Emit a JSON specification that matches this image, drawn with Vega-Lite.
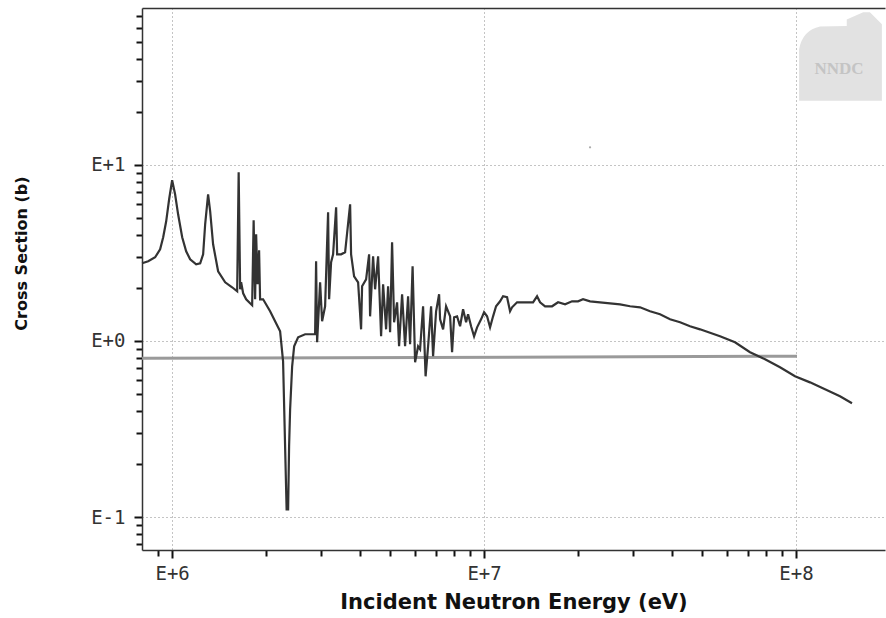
{
  "$schema": "https://vega.github.io/schema/vega-lite/v6.json",
  "width": 743,
  "height": 542,
  "autosize": {"type": "none"},
  "padding": {"left": 142, "top": 8, "right": 1, "bottom": 68},
  "background": "white",
  "config": {"view": {"stroke": null}},
  "datasets": {
    "curve": [
      {"E":801000,"xs":2.764},{"E":838000,"xs":2.837},{"E":882000,"xs":2.989},{"E":915000,"xs":3.319},{"E":936000,"xs":3.884},
      {"E":957000,"xs":4.787},{"E":978000,"xs":6.386},{"E":1000000,"xs":8.186},{"E":1022000,"xs":6.817},{"E":1045000,"xs":5.246},
      {"E":1077000,"xs":3.884},{"E":1109000,"xs":3.233},{"E":1142000,"xs":2.912},{"E":1194000,"xs":2.728},{"E":1230000,"xs":2.764},
      {"E":1257000,"xs":3.109},{"E":1276000,"xs":4.604},{"E":1304000,"xs":6.817},{"E":1324000,"xs":5.457},{"E":1353000,"xs":3.544},
      {"E":1404000,"xs":2.489},{"E":1479000,"xs":2.156},{"E":1557000,"xs":2.02},{"E":1616000,"xs":1.916},{"E":1634000,"xs":9.09},
      {"E":1652000,"xs":1.967},{"E":1664000,"xs":2.156},{"E":1689000,"xs":1.866},{"E":1727000,"xs":1.726},{"E":1778000,"xs":1.637},
      {"E":1805000,"xs":1.595},{"E":1825000,"xs":4.851},{"E":1845000,"xs":1.726},{"E":1859000,"xs":4.04},{"E":1879000,"xs":2.1},
      {"E":1900000,"xs":3.276},{"E":1914000,"xs":1.726},{"E":1957000,"xs":1.726},{"E":2061000,"xs":1.475},{"E":2138000,"xs":1.294},
      {"E":2219000,"xs":1.135},{"E":2268000,"xs":0.767},{"E":2302000,"xs":0.2522},{"E":2328000,"xs":0.1106},{"E":2354000,"xs":0.1106},
      {"E":2371000,"xs":0.2522},{"E":2389000,"xs":0.4091},{"E":2425000,"xs":0.7183},{"E":2461000,"xs":0.933},{"E":2534000,"xs":1.05},
      {"E":2669000,"xs":1.092},{"E":2873000,"xs":1.092},{"E":2894000,"xs":2.837},{"E":2916000,"xs":0.983},{"E":2981000,"xs":2.156},
      {"E":3025000,"xs":1.294},{"E":3093000,"xs":1.575},{"E":3162000,"xs":5.386},{"E":3186000,"xs":1.726},{"E":3233000,"xs":2.801},
      {"E":3281000,"xs":3.109},{"E":3355000,"xs":5.75},{"E":3380000,"xs":3.109},{"E":3481000,"xs":3.109},{"E":3585000,"xs":3.191},
      {"E":3720000,"xs":5.979},{"E":3747000,"xs":3.109},{"E":3831000,"xs":2.332},{"E":3946000,"xs":2.156},{"E":4034000,"xs":1.165},
      {"E":4064000,"xs":2.046},{"E":4186000,"xs":2.242},{"E":4280000,"xs":3.109},{"E":4311000,"xs":1.381},{"E":4408000,"xs":3.029},
      {"E":4473000,"xs":1.967},{"E":4574000,"xs":3.029},{"E":4676000,"xs":1.063},{"E":4746000,"xs":2.1},{"E":4852000,"xs":1.165},
      {"E":4924000,"xs":2.046},{"E":4997000,"xs":1.121},{"E":5071000,"xs":3.638},{"E":5147000,"xs":1.277},{"E":5262000,"xs":1.659},
      {"E":5340000,"xs":0.933},{"E":5460000,"xs":1.842},{"E":5582000,"xs":0.933},{"E":5707000,"xs":1.795},{"E":5792000,"xs":0.958},
      {"E":5900000,"xs":2.657},{"E":6010000,"xs":0.757},{"E":6144000,"xs":0.933},{"E":6236000,"xs":0.897},{"E":6375000,"xs":1.575},
      {"E":6494000,"xs":0.63},{"E":6615000,"xs":0.933},{"E":6763000,"xs":1.575},{"E":6864000,"xs":0.819},{"E":7018000,"xs":1.475},
      {"E":7175000,"xs":1.842},{"E":7228000,"xs":1.328},{"E":7390000,"xs":1.165},{"E":7555000,"xs":1.575},{"E":7782000,"xs":1.381},
      {"E":7897000,"xs":0.863},{"E":8015000,"xs":1.363},{"E":8194000,"xs":1.381},{"E":8377000,"xs":1.212},{"E":8565000,"xs":1.514},
      {"E":8757000,"xs":1.277},{"E":8887000,"xs":1.418},{"E":9086000,"xs":1.212},{"E":9289000,"xs":1.063},{"E":9498000,"xs":1.196},
      {"E":9781000,"xs":1.328},{"E":10000000,"xs":1.456},{"E":10224000,"xs":1.381},{"E":10453000,"xs":1.196},{"E":10687000,"xs":1.381},
      {"E":10926000,"xs":1.575},{"E":11254000,"xs":1.681},{"E":11506000,"xs":1.795},{"E":11851000,"xs":1.772},{"E":12115000,"xs":1.475},
      {"E":12295000,"xs":1.554},{"E":12757000,"xs":1.659},{"E":13335000,"xs":1.659},{"E":13735000,"xs":1.659},{"E":14356000,"xs":1.659},
      {"E":14786000,"xs":1.795},{"E":15118000,"xs":1.659},{"E":15687000,"xs":1.575},{"E":16520000,"xs":1.575},{"E":17268000,"xs":1.659},
      {"E":18184000,"xs":1.616},{"E":19144000,"xs":1.681},{"E":20011000,"xs":1.681},{"E":20764000,"xs":1.726},{"E":21865000,"xs":1.681},
      {"E":23535000,"xs":1.659},{"E":25343000,"xs":1.637},{"E":27285000,"xs":1.616},{"E":29377000,"xs":1.575},{"E":31623000,"xs":1.554},
      {"E":34045000,"xs":1.475},{"E":36657000,"xs":1.418},{"E":39459000,"xs":1.328},{"E":42490000,"xs":1.277},{"E":45736000,"xs":1.212},
      {"E":49240000,"xs":1.165},{"E":57070000,"xs":1.063},{"E":63754000,"xs":0.983},{"E":71223000,"xs":0.863},{"E":79571000,"xs":0.787},
      {"E":88870000,"xs":0.709},{"E":99260000,"xs":0.63},{"E":110880000,"xs":0.582},{"E":123870000,"xs":0.532},{"E":138380000,"xs":0.485},
      {"E":151180000,"xs":0.443}
    ],
    "gray": [
      {"E":801000,"xs":0.797},{"E":100740000,"xs":0.819}
    ],
    "logo": [{"E":138900000,"xs":41.2}],
    "logotext": [{"E":137350000,"xs":35.0,"t":"NNDC"}],
    "dot": [{"E":21865000,"xs":12.6}]
  },
  "encoding": {
    "y": {
      "field": "xs", "type": "quantitative",
      "scale": {"type": "log", "domain": [0.06494, 77.98], "nice": false},
      "axis": {
        "values": [0.07, 0.08, 0.09, 0.1, 0.2, 0.3, 0.4, 0.5, 0.6, 0.7, 0.8, 0.9, 1, 2, 3, 4, 5, 6, 7, 8, 9, 10, 20, 30, 40, 50, 60, 70],
        "labelExpr": "abs(log(datum.value)/LN10 - round(log(datum.value)/LN10)) < 0.000001 ? 'E' + (round(log(datum.value)/LN10) >= 0 ? '+' : '-') + abs(round(log(datum.value)/LN10)) : ''",
        "labelFont": "DejaVu Sans Mono", "labelFontSize": 19, "labelColor": "#333", "labelPadding": 9, "labelOverlap": false, "labelFlush": false,
        "tickColor": "#111", "tickWidth": 2,
        "tickSize": {"condition": {"test": "abs(log(datum.value)/LN10 - round(log(datum.value)/LN10)) < 0.000001", "value": 8}, "value": 6},
        "domainColor": "#333", "domainWidth": 1.5,
        "grid": true, "gridColor": "#888", "gridDash": [1, 3], "gridWidth": 1,
        "gridOpacity": {"condition": {"test": "abs(log(datum.value)/LN10 - round(log(datum.value)/LN10)) < 0.000001", "value": 1}, "value": 0},
        "title": "Cross Section (b)", "titleFont": "DejaVu Sans", "titleFontSize": 16, "titleFontWeight": "bold", "titleColor": "#111",
        "titleX": -121, "titleY": 245, "titleAngle": -90, "titleAlign": "center", "titleBaseline": "middle"
      }
    }
  },
  "layer": [
    {
      "data": {"name": "logo"},
      "mark": {"type": "point", "shape": "M-0.93,0.99 L-0.93,-0.17 Q-0.85,-0.6 -0.46,-0.68 L0.14,-0.69 L0.14,-0.84 L0.51,-1 L0.66,-1 L0.93,-0.73 L0.93,0.99 Z", "filled": true, "size": 7921, "color": "#e2e2e2", "opacity": 1},
      "encoding": {
        "x": {"field": "E", "type": "quantitative", "scale": {"type": "log", "domain": [800500, 192900000], "nice": false}, "axis": null}
      }
    },
    {
      "data": {"name": "logotext"},
      "mark": {"type": "text", "font": "Liberation Serif", "fontSize": 17, "fontWeight": "bold", "color": "#c4c4c4", "align": "center", "baseline": "middle"},
      "encoding": {
        "x": {"field": "E", "type": "quantitative", "axis": null},
        "text": {"field": "t"}
      }
    },
    {
      "data": {"name": "gray"},
      "mark": {"type": "line", "color": "#9a9a9a", "strokeWidth": 3},
      "encoding": {
        "x": {"field": "E", "type": "quantitative", "axis": {"orient": "top", "labels": false, "ticks": false, "grid": false, "title": null, "domainColor": "#333", "domainWidth": 1.5}}
      }
    },
    {
      "data": {"name": "dot"},
      "mark": {"type": "point", "filled": true, "size": 5, "color": "#aaaaaa", "opacity": 1},
      "encoding": {
        "x": {"field": "E", "type": "quantitative", "axis": null}
      }
    },
    {
      "data": {"name": "curve"},
      "mark": {"type": "line", "color": "#333333", "strokeWidth": 2.2},
      "encoding": {
        "x": {
          "field": "E", "type": "quantitative",
          "axis": {
            "orient": "bottom",
            "values": [800000, 900000, 1000000, 2000000, 3000000, 4000000, 5000000, 6000000, 7000000, 8000000, 9000000, 10000000, 20000000, 30000000, 40000000, 50000000, 60000000, 70000000, 80000000, 90000000, 100000000],
            "labelExpr": "abs(log(datum.value)/LN10 - round(log(datum.value)/LN10)) < 0.000001 ? 'E' + (round(log(datum.value)/LN10) >= 0 ? '+' : '-') + abs(round(log(datum.value)/LN10)) : ''",
            "labelFont": "DejaVu Sans Mono", "labelFontSize": 19, "labelColor": "#333", "labelPadding": 6, "labelOverlap": false, "labelFlush": false,
            "tickColor": "#111", "tickWidth": 2,
            "tickSize": {"condition": {"test": "abs(log(datum.value)/LN10 - round(log(datum.value)/LN10)) < 0.000001", "value": 8}, "value": 6},
            "domainColor": "#333", "domainWidth": 1.5,
            "grid": true, "gridColor": "#888", "gridDash": [1, 3], "gridWidth": 1,
            "gridOpacity": {"condition": {"test": "abs(log(datum.value)/LN10 - round(log(datum.value)/LN10)) < 0.000001", "value": 1}, "value": 0},
            "title": "Incident Neutron Energy (eV)", "titleFont": "DejaVu Sans", "titleFontSize": 21, "titleFontWeight": "bold", "titleColor": "#111", "titlePadding": 8
          }
        }
      }
    }
  ],
  "resolve": {"axis": {"x": "independent"}}
}
